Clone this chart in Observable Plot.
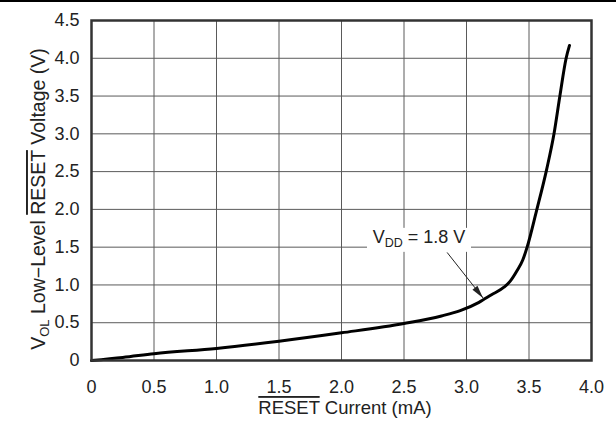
<!DOCTYPE html>
<html><head><meta charset="utf-8">
<script src="https://cdn.jsdelivr.net/npm/d3@7"></script>
<script src="https://cdn.jsdelivr.net/npm/@observablehq/plot@0.6"></script>
<style>
body{margin:0;background:#fff;}
svg{font-family:"Liberation Sans",Arial,sans-serif;}
</style></head>
<body><div id="chart"></div>
<script>
// Data (RESET current mA -> V_OL volts)
const currentMA = [0, 0.25, 0.5, 1.0, 1.5, 2.0, 2.5, 2.8, 2.95, 3.1, 3.2, 3.3, 3.35, 3.405, 3.45, 3.485, 3.56, 3.64, 3.70, 3.747, 3.797, 3.824];
const voltageV  = [0, 0.04, 0.09, 0.16, 0.255, 0.366, 0.49, 0.59, 0.66, 0.77, 0.87, 0.97, 1.05, 1.19, 1.33, 1.5, 1.98, 2.52, 3.0, 3.5, 4.0, 4.17];
const xTicks = [0, 0.5, 1.0, 1.5, 2.0, 2.5, 3.0, 3.5, 4.0];
const yTicks = [0, 0.5, 1.0, 1.5, 2.0, 2.5, 3.0, 3.5, 4.0, 4.5];
const annotation = {label: " = 1.8 V", textX: 2.624, textY: 1.63, arrowX1: 2.845, arrowY1: 1.43, arrowX2: 3.136, arrowY2: 0.82};

const data = currentMA.map((x, i) => ({x, y: voltageV[i]}));
const fmt = d => d === 0 ? "0" : d.toFixed(1);

const plot = Plot.plot({
  width: 616, height: 423,
  marginLeft: 91, marginRight: 25, marginTop: 20, marginBottom: 63,
  style: {fontSize: "18px", fontFamily: "Liberation Sans, Arial, sans-serif", color: "#222", background: "#fff"},
  x: {domain: [0, 4]},
  y: {domain: [0, 4.5]},
  marks: [
    Plot.gridX(xTicks, {stroke: "#5a5a5a", strokeOpacity: 1, strokeWidth: 1}),
    Plot.gridY(yTicks, {stroke: "#5a5a5a", strokeOpacity: 1, strokeWidth: 1}),
    Plot.axisX(xTicks, {tickSize: 0, tickPadding: 20, tickFormat: fmt, label: null, fontSize: 18}),
    Plot.axisY(yTicks, {tickSize: 0, tickPadding: 12, tickFormat: fmt, label: null, fontSize: 18}),
    Plot.line(data, {x: "x", y: "y", stroke: "#000", strokeWidth: 3, curve: "monotone-x"}),
    Plot.link([annotation], {x1: "arrowX1", y1: "arrowY1", x2: "arrowX2", y2: "arrowY2", stroke: "#222", strokeWidth: 1}),
    Plot.frame({stroke: "#333", strokeWidth: 2.5})
  ]
});

const svg = d3.select(plot);
const sx = plot.scale("x"), sy = plot.scale("y");

// filled arrow head
{
  const x1 = sx.apply(annotation.arrowX1), y1 = sy.apply(annotation.arrowY1);
  const x2 = sx.apply(annotation.arrowX2), y2 = sy.apply(annotation.arrowY2);
  const a = Math.atan2(y2 - y1, x2 - x1), L = 13, W = 3.2;
  const bx = x2 - L * Math.cos(a), by = y2 - L * Math.sin(a);
  const px = -Math.sin(a) * W, py = Math.cos(a) * W;
  svg.append("path").attr("d", `M${x2},${y2}L${bx + px},${by + py}L${bx - px},${by - py}Z`).attr("fill", "#222");
}

// annotation label with subscript and white background
const ax = sx.apply(annotation.textX), ay = sy.apply(annotation.textY);
svg.append("rect").attr("x", ax - 52).attr("y", ay - 9).attr("width", 104).attr("height", 24).attr("fill", "#fff");
const at = svg.append("text").attr("x", ax).attr("y", ay + 6.5).attr("text-anchor", "middle").attr("font-size", 18).attr("fill", "#222");
at.append("tspan").text("V");
at.append("tspan").attr("font-size", 12.5).attr("dy", 4).text("DD");
at.append("tspan").attr("dy", -4).text(annotation.label);

// x axis title
const xt = svg.append("text").attr("x", 345).attr("y", 414).attr("text-anchor", "middle").attr("font-size", 18.5).attr("fill", "#222");
xt.append("tspan").style("text-decoration", "overline").text("RESET");
xt.append("tspan").text(" Current (mA)");

// y axis title
const yt = svg.append("text").attr("transform", "translate(45,199) rotate(-90)").attr("text-anchor", "middle").attr("font-size", 19.5).attr("fill", "#222");
yt.append("tspan").text("V");
yt.append("tspan").attr("font-size", 13).attr("dy", 4).text("OL");
yt.append("tspan").attr("dy", -4).text(" Low\u2212Level ");
yt.append("tspan").style("text-decoration", "overline").text("RESET");
yt.append("tspan").text(" Voltage (V)");

// top rule
svg.append("line").attr("x1", 0).attr("x2", 616).attr("y1", 1).attr("y2", 1).attr("stroke", "#000").attr("stroke-width", 2);

document.getElementById("chart").appendChild(plot);
</script></body></html>
